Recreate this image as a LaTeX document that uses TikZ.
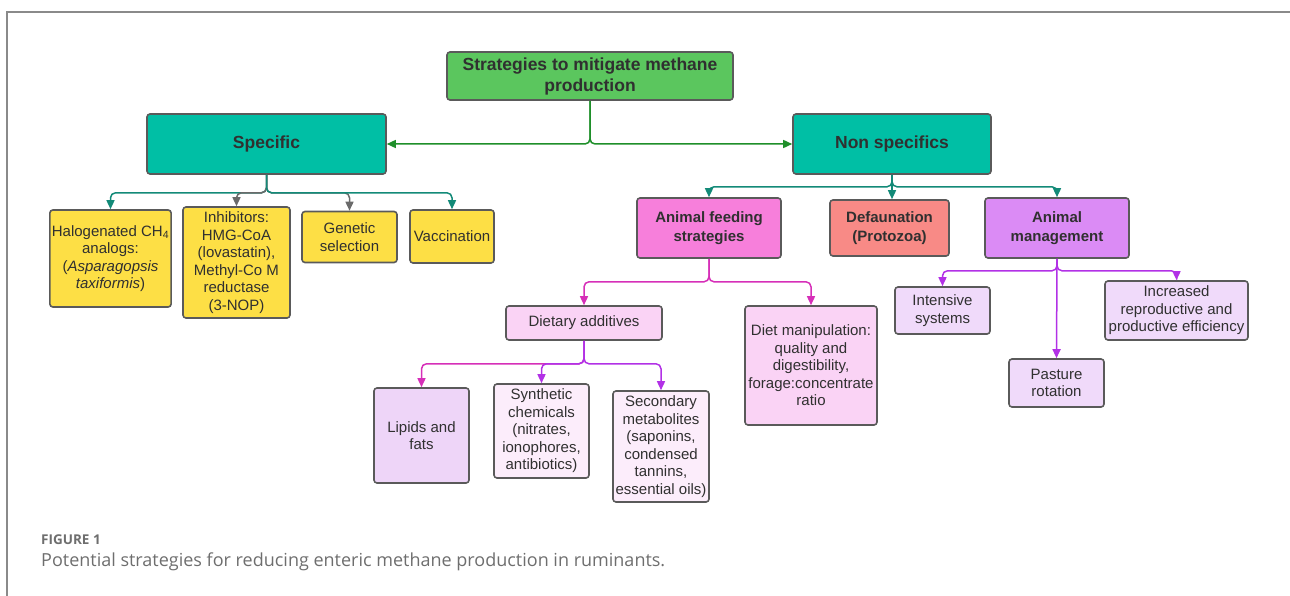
\documentclass[tikz,border=0pt]{standalone}
\usepackage{fontspec}
\setmainfont{Liberation Sans}
\newfontfamily\capfont{Open Sans}
\usetikzlibrary{arrows.meta}
\definecolor{frame}{HTML}{8A8A8A}
\definecolor{boxline}{HTML}{5A5A5A}
\definecolor{txt}{HTML}{303030}
\definecolor{rootgreen}{HTML}{5BC65E}
\definecolor{teal}{HTML}{00BFA5}
\definecolor{yel}{HTML}{FDDF45}
\definecolor{feedc}{HTML}{F77FDB}
\definecolor{defac}{HTML}{F88A86}
\definecolor{mgmtc}{HTML}{DB8BF5}
\definecolor{pinkl}{HTML}{FAD3F5}
\definecolor{lipc}{HTML}{EED5F8}
\definecolor{palec}{HTML}{FCEDFB}
\definecolor{lavl}{HTML}{F0DAFA}
\definecolor{gline}{HTML}{1F8F2A}
\definecolor{tline}{HTML}{138A78}
\definecolor{greyline}{HTML}{6A6A6A}
\definecolor{magline}{HTML}{D62FB8}
\definecolor{purline}{HTML}{B231E6}
\definecolor{captxt}{HTML}{6E6E6E}
\tikzset{
  box/.style={draw=boxline, line width=1.6pt, rounded corners=3pt, align=center,
    inner sep=2pt, text=txt, font=\fontsize{15}{17.5}\selectfont},
  bbox/.style={box, font=\fontsize{17.5}{21}\selectfont\bfseries},
  sbox/.style={box, font=\fontsize{15}{18.5}\selectfont\bfseries},
  conn/.style={line width=1.5pt, rounded corners=5pt,
    -{Triangle[length=9pt,width=8pt]}},
  gconn/.style={conn, draw=gline},
  tconn/.style={conn, draw=tline},
  greyconn/.style={conn, draw=greyline},
  mconn/.style={conn, draw=magline},
  pconn/.style={conn, draw=purline},
  caption/.style={anchor=west, inner sep=0pt, text=captxt}
}
\begin{document}
\begin{tikzpicture}[x=1pt,y=-1pt]
\useasboundingbox (0,0) rectangle (1290,596);
\draw[frame, line width=1.6pt] (1290,12) -- (7,12) -- (7,596);

% top levels
\node[bbox, fill=rootgreen, minimum width=286pt, minimum height=48pt] (root) at (590,76)
  {Strategies to mitigate methane\\production};
\node[bbox, fill=teal, minimum width=239pt, minimum height=60pt] (spec) at (266.5,144) {Specific};
\node[bbox, fill=teal, minimum width=198pt, minimum height=60pt] (nons) at (892,144) {Non specifics};

% specific children
\node[box, fill=yel, minimum width=119pt, minimum height=97pt] (halo) at (110.5,258.5)
  {Halogenated CH\textsubscript{4}\\analogs:\\(\textit{Asparagopsis}\\\textit{taxiformis})};
\node[box, fill=yel, minimum width=107pt, minimum height=111pt] (inhib) at (236.5,262.5)
  {Inhibitors:\\HMG-CoA\\(lovastatin),\\Methyl-Co M\\reductase\\(3-NOP)};
\node[box, fill=yel, minimum width=95pt, minimum height=51pt] (gen) at (349.5,237)
  {Genetic\\selection};
\node[box, fill=yel, minimum width=84pt, minimum height=53pt] (vacc) at (452,236.5)
  {Vaccination};

% non specific children
\node[sbox, fill=feedc, minimum width=144pt, minimum height=60pt] (feed) at (709,228)
  {Animal feeding\\strategies};
\node[sbox, fill=defac, minimum width=119pt, minimum height=56pt] (defa) at (889.5,228)
  {Defaunation\\(Protozoa)};
\node[sbox, fill=mgmtc, minimum width=144pt, minimum height=60pt] (mgmt) at (1057,228)
  {Animal\\management};

% feeding children
\node[box, fill=pinkl, minimum width=156pt, minimum height=34pt] (diet) at (584,323)
  {Dietary additives};
\node[box, fill=pinkl, minimum width=132pt, minimum height=119pt] (manip) at (811,365.5)
  {Diet manipulation:\\quality and\\digestibility,\\forage:concentrate\\ratio};

% dietary children
\node[box, fill=lipc, minimum width=95pt, minimum height=95pt] (lipid) at (421.5,435.5)
  {Lipids and\\fats};
\node[box, fill=palec, minimum width=95pt, minimum height=94pt] (synth) at (541.5,431)
  {Synthetic\\chemicals\\(nitrates,\\ionophores,\\antibiotics)};
\node[box, fill=palec, minimum width=96pt, minimum height=111pt] (second) at (661,446.5)
  {Secondary\\metabolites\\(saponins,\\condensed\\tannins,\\essential oils)};

% management children
\node[box, fill=lavl, minimum width=95pt, minimum height=47pt] (inten) at (942.5,310.5)
  {Intensive\\systems};
\node[box, fill=lavl, minimum width=95pt, minimum height=48pt] (past) at (1056.5,383)
  {Pasture\\rotation};
\node[box, fill=lavl, minimum width=143pt, minimum height=59pt] (incr) at (1176.5,310.5)
  {Increased\\reproductive and\\productive efficiency};

% connectors
\draw[gconn] (root.south) |- (spec.east);
\draw[gconn] (root.south) |- (nons.west);

\draw[tconn] (spec.south) -- ++(0,18) -| (halo.north);
\draw[greyconn] (spec.south) -- ++(0,18) -| (inhib.north);
\draw[greyconn] (spec.south) -- ++(0,18) -| (gen.north);
\draw[tconn] (spec.south) -- ++(0,18) -| (vacc.north);

\draw[tconn] (nons.south) -- ++(0,12) -| (feed.north);
\draw[tconn] (nons.south) -- (defa.north -| nons.south);
\draw[tconn] (nons.south) -- ++(0,12) -| (mgmt.north);

\draw[mconn] (feed.south) -- ++(0,23) -| (diet.north);
\draw[mconn] (feed.south) -- ++(0,23) -| (manip.north);

\draw[mconn] (diet.south) -- ++(0,23) -| (lipid.north);
\draw[pconn] (diet.south) -- ++(0,23) -| (synth.north);
\draw[pconn] (diet.south) -- ++(0,23) -| (second.north);

\draw[pconn] (mgmt.south) -- ++(0,12) -| (inten.north);
\draw[pconn] (mgmt.south) -- (past.north);
\draw[pconn] (mgmt.south) -- ++(0,12) -| (incr.north);

% caption
\node[caption, font=\capfont\bfseries\fontsize{13.5}{16}\selectfont] (figlab) at (41,540) {FIGURE 1};
\node[caption, font=\capfont\fontsize{18}{21}\selectfont] (captext) at (41,562)
  {Potential strategies for reducing enteric methane production in ruminants.};
\end{tikzpicture}
\end{document}
